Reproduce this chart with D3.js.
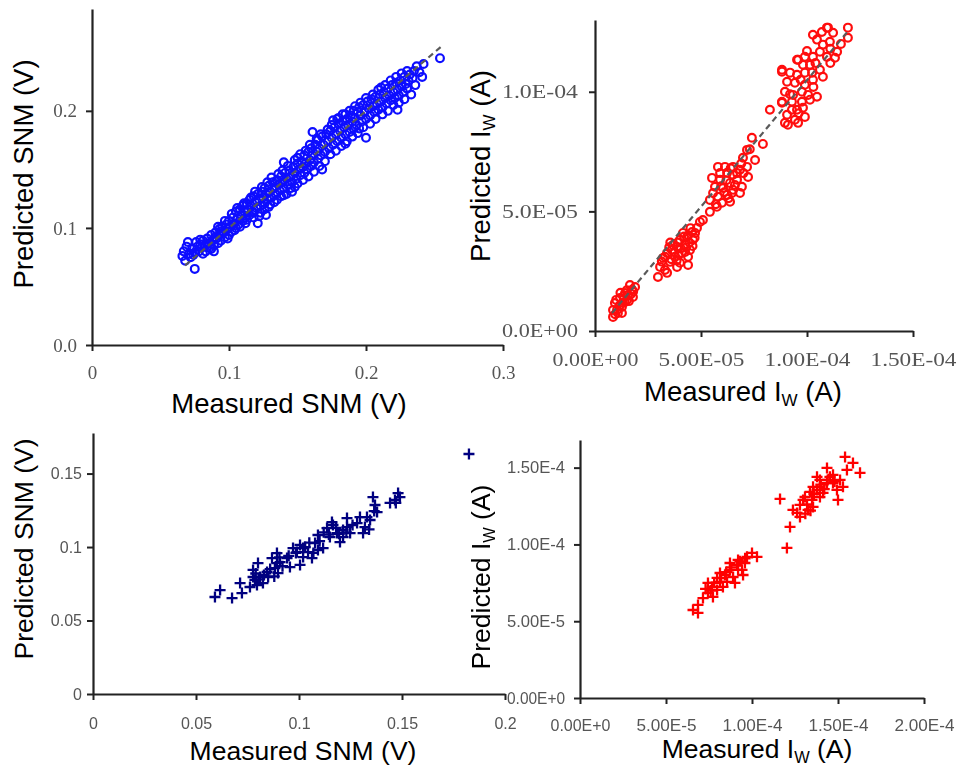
<!DOCTYPE html>
<html><head><meta charset="utf-8">
<script src="https://cdn.jsdelivr.net/npm/d3@7"></script>
<style>body{margin:0;background:#fff}svg{display:block}</style>
</head><body>
<svg id="c" width="961" height="769"></svg>
<script>
// ---------- DATA ----------
// Top-left: Measured SNM (V) vs Predicted SNM (V)
const snmTopPoints = [
[0.066,0.076],[0.067,0.080],[0.068,0.072],[0.069,0.084],[0.071,0.078],[0.072,0.075],[0.073,0.082],[0.075,0.065],[0.075,0.079],[0.076,0.088],[0.077,0.084],[0.078,0.080],[0.079,0.086],[0.080,0.083],[0.081,0.089],[0.082,0.085],[0.083,0.080],[0.084,0.091],[0.085,0.087],[0.086,0.083],[0.087,0.094],[0.088,0.089],[0.089,0.085],[0.089,0.080],[0.090,0.096],[0.091,0.091],[0.092,0.087],[0.093,0.099],[0.093,0.094],[0.094,0.089],[0.095,0.101],[0.096,0.096],[0.097,0.092],[0.098,0.103],[0.099,0.099],[0.100,0.094],[0.100,0.106],
[0.101,0.101],[0.102,0.097],[0.103,0.109],[0.104,0.104],[0.105,0.100],[0.105,0.114],[0.106,0.108],[0.107,0.103],[0.108,0.116],[0.109,0.111],[0.110,0.106],[0.110,0.119],[0.111,0.114],[0.112,0.109],[0.112,0.104],[0.113,0.121],[0.114,0.116],[0.115,0.111],[0.115,0.124],[0.116,0.119],[0.117,0.114],[0.118,0.109],[0.118,0.127],[0.119,0.122],[0.120,0.117],[0.121,0.104],[0.121,0.129],[0.122,0.124],[0.123,0.119],[0.123,0.113],[0.124,0.131],[0.125,0.126],[0.126,0.121],[0.126,0.134],[0.127,0.129],[0.128,0.124],[0.129,0.136],[0.129,0.118],[0.130,0.131],
[0.131,0.126],[0.132,0.139],[0.133,0.134],[0.134,0.129],[0.135,0.141],[0.135,0.124],[0.136,0.137],[0.137,0.132],[0.138,0.144],[0.139,0.139],[0.140,0.156],[0.140,0.134],[0.141,0.147],[0.142,0.142],[0.143,0.137],[0.144,0.149],[0.145,0.134],[0.145,0.144],[0.146,0.139],[0.147,0.152],[0.148,0.147],[0.149,0.142],[0.150,0.155],[0.150,0.160],[0.151,0.150],[0.152,0.145],[0.153,0.157],[0.154,0.152],[0.155,0.147],[0.155,0.162],[0.156,0.155],[0.157,0.150],[0.158,0.165],[0.159,0.158],[0.160,0.153],[0.160,0.168],[0.161,0.182],[0.161,0.162],[0.162,0.156],[0.163,0.171],[0.164,0.165],[0.165,0.159],[0.165,0.175],[0.166,0.168],[0.167,0.162],[0.168,0.150],[0.168,0.178],[0.169,0.171],[0.170,0.165],
[0.171,0.180],[0.172,0.174],[0.173,0.168],[0.174,0.183],[0.175,0.177],[0.176,0.171],[0.176,0.192],[0.177,0.186],[0.178,0.180],[0.179,0.174],[0.180,0.189],[0.180,0.194],[0.181,0.183],[0.182,0.177],[0.183,0.191],[0.184,0.186],[0.185,0.180],[0.185,0.197],[0.186,0.193],[0.187,0.188],[0.188,0.182],[0.189,0.196],[0.190,0.191],[0.191,0.185],[0.191,0.200],[0.192,0.194],[0.193,0.188],[0.194,0.199],[0.195,0.185],[0.195,0.203],[0.196,0.196],[0.197,0.191],[0.198,0.205],[0.199,0.199],[0.200,0.193],[0.200,0.177],[0.201,0.208],[0.202,0.202],[0.203,0.196],[0.204,0.210],[0.205,0.204],[0.206,0.199],[0.207,0.212],[0.208,0.206],[0.209,0.201],[0.210,0.214],
[0.211,0.220],[0.211,0.208],[0.212,0.203],[0.213,0.216],[0.214,0.211],[0.215,0.206],[0.216,0.219],[0.217,0.213],[0.218,0.209],[0.219,0.222],[0.220,0.216],[0.221,0.211],[0.222,0.224],[0.223,0.218],[0.223,0.201],[0.224,0.213],[0.225,0.226],[0.226,0.221],[0.227,0.216],[0.228,0.229],[0.229,0.223],[0.230,0.219],[0.231,0.226],[0.232,0.231],[0.234,0.228],[0.235,0.234],[0.237,0.238],[0.241,0.229],[0.242,0.240],[0.254,0.245],
[0.070,0.088],[0.074,0.077],[0.079,0.090],[0.081,0.078],[0.084,0.086],[0.087,0.082],[0.090,0.092],[0.092,0.101],[0.094,0.097],[0.097,0.106],[0.099,0.091],[0.102,0.112],[0.104,0.098],[0.106,0.117],[0.108,0.101],[0.111,0.121],[0.113,0.107],[0.116,0.126],[0.118,0.113],[0.119,0.131],[0.122,0.110],[0.124,0.135],[0.126,0.116],[0.128,0.139],[0.130,0.120],[0.131,0.143],[0.133,0.122],[0.136,0.146],[0.138,0.127],[0.139,0.149],[0.142,0.129],[0.143,0.153],[0.146,0.131],[0.148,0.158],[0.150,0.138],[0.152,0.163],[0.154,0.141],[0.156,0.166],[0.158,0.144],[0.159,0.171],[0.162,0.148],[0.164,0.176],[0.166,0.153],[0.167,0.180],[0.170,0.157],[0.172,0.184],[0.174,0.163],[0.175,0.188],[0.178,0.166],[0.179,0.193],[0.182,0.170],[0.183,0.197],[0.186,0.174],[0.188,0.200],[0.190,0.178],[0.192,0.204],[0.194,0.181],[0.196,0.207],[0.198,0.186],[0.200,0.211],[0.203,0.189],[0.205,0.214],[0.207,0.193],[0.209,0.218],[0.212,0.197],[0.214,0.222],[0.216,0.200],[0.218,0.226],[0.220,0.205],[0.222,0.229],[0.224,0.207],[0.226,0.232],[0.228,0.210],[0.230,0.234],[0.233,0.214],[0.236,0.222],[0.239,0.233],[0.127,0.111],[0.148,0.135],[0.185,0.172],[0.140,0.128]
];
const snmTopFit = [[0.068,0.068],[0.256,0.256]];
const snmTopXTicks = [0,0.1,0.2,0.3];
const snmTopXLabels = ["0","0.1","0.2","0.3"];
const snmTopYTicks = [0,0.1,0.2];
const snmTopYLabels = ["0.0","0.1","0.2"];

// Top-right: Measured IW (A) vs Predicted IW (A)
const iwTopPoints = [
[0.85e-5,0.59e-5],[1.04e-5,0.88e-5],[0.94e-5,1.17e-5],[1.27e-5,1.00e-5],[1.18e-5,1.38e-5],[1.51e-5,1.30e-5],[1.42e-5,1.59e-5],[1.75e-5,1.72e-5],[1.79e-5,1.42e-5],[1.65e-5,1.92e-5],[1.08e-5,0.75e-5],[1.32e-5,1.17e-5],[1.56e-5,1.51e-5],[1.89e-5,1.84e-5],[0.85e-5,0.88e-5],[1.27e-5,0.75e-5],[1.60e-5,1.25e-5],[1.20e-5,1.60e-5],
[1.00e-5,1.30e-5],[1.15e-5,1.05e-5],[1.40e-5,1.20e-5],[1.70e-5,1.55e-5],[1.50e-5,1.70e-5],[0.95e-5,0.70e-5],[1.35e-5,1.45e-5],[1.80e-5,1.65e-5],
[4.95e-5,4.56e-5],[4.81e-5,4.31e-5],[4.58e-5,4.14e-5],[4.34e-5,3.93e-5],[4.62e-5,3.81e-5],[4.01e-5,3.81e-5],[4.25e-5,3.60e-5],[3.87e-5,3.51e-5],[4.48e-5,3.39e-5],[3.63e-5,3.39e-5],[4.10e-5,3.26e-5],[3.40e-5,3.26e-5],[3.77e-5,3.10e-5],[4.39e-5,3.10e-5],[3.21e-5,3.05e-5],[3.54e-5,2.89e-5],[4.01e-5,2.85e-5],[3.07e-5,2.68e-5],[3.30e-5,2.55e-5],[2.97e-5,2.26e-5],[3.87e-5,2.68e-5],[4.39e-5,2.76e-5],[3.40e-5,2.43e-5],[4.72e-5,4.10e-5],[4.15e-5,4.10e-5],[3.68e-5,3.60e-5],[4.45e-5,3.70e-5],[3.95e-5,3.20e-5],[3.15e-5,2.90e-5],[4.20e-5,3.95e-5],
[3.50e-5,3.50e-5],[3.60e-5,3.00e-5],[3.90e-5,3.70e-5],[4.30e-5,3.50e-5],[4.60e-5,3.55e-5],[4.05e-5,3.45e-5],[3.75e-5,3.30e-5],[4.25e-5,3.30e-5],[4.50e-5,4.30e-5],[4.40e-5,4.00e-5],[3.30e-5,3.10e-5],[3.85e-5,2.95e-5],[4.70e-5,3.90e-5],[3.55e-5,3.70e-5],
[7.40e-5,8.08e-5],[7.92e-5,7.82e-5],[7.17e-5,7.57e-5],[7.55e-5,7.15e-5],[7.17e-5,6.86e-5],[6.84e-5,6.74e-5],[6.51e-5,6.86e-5],[5.80e-5,6.86e-5],[6.23e-5,6.61e-5],[5.52e-5,6.40e-5],[5.90e-5,6.32e-5],[6.37e-5,6.19e-5],[6.70e-5,6.32e-5],[6.93e-5,6.03e-5],[6.51e-5,5.90e-5],[6.04e-5,5.98e-5],[5.66e-5,6.03e-5],[6.84e-5,5.77e-5],[6.23e-5,5.69e-5],[5.80e-5,5.61e-5],[5.42e-5,5.48e-5],[5.99e-5,5.36e-5],[6.37e-5,5.40e-5],[5.42e-5,4.98e-5],[5.09e-5,4.64e-5],[5.75e-5,5.19e-5],[6.51e-5,6.53e-5],[6.13e-5,6.86e-5],[6.98e-5,7.24e-5],[7.22e-5,6.44e-5],[6.46e-5,5.77e-5],[5.57e-5,5.77e-5],
[5.90e-5,6.60e-5],[6.20e-5,6.30e-5],[6.60e-5,6.10e-5],[6.70e-5,6.60e-5],[5.70e-5,5.30e-5],[6.10e-5,5.80e-5],[7.00e-5,6.60e-5],[6.40e-5,6.80e-5],[7.30e-5,7.60e-5],[5.95e-5,6.05e-5],[6.90e-5,7.00e-5],[6.30e-5,5.55e-5],
[11.93e-5,12.68e-5],[11.93e-5,12.26e-5],[10.94e-5,12.68e-5],[11.23e-5,12.47e-5],[10.47e-5,12.18e-5],[10.75e-5,11.97e-5],[11.08e-5,12.09e-5],[10.28e-5,12.38e-5],[10.61e-5,11.67e-5],[11.42e-5,11.67e-5],[10.28e-5,11.46e-5],[10.94e-5,11.46e-5],[9.90e-5,11.46e-5],[9.53e-5,11.34e-5],[10.14e-5,11.13e-5],[9.81e-5,11.13e-5],[11.32e-5,11.42e-5],[8.82e-5,10.84e-5],[9.20e-5,10.80e-5],[9.53e-5,10.71e-5],[9.90e-5,10.80e-5],[10.24e-5,10.80e-5],[10.75e-5,10.63e-5],[10.61e-5,10.92e-5],[9.06e-5,10.42e-5],[9.43e-5,10.38e-5],[9.90e-5,10.29e-5],[10.28e-5,10.50e-5],[9.76e-5,10.00e-5],[8.96e-5,10.00e-5],[9.34e-5,9.87e-5],[10.05e-5,9.87e-5],[8.82e-5,9.58e-5],[9.29e-5,9.58e-5],[9.76e-5,9.58e-5],[10.14e-5,9.67e-5],[10.47e-5,9.79e-5],[9.53e-5,9.25e-5],[8.25e-5,9.25e-5],[9.06e-5,9.04e-5],[9.90e-5,8.95e-5],[9.43e-5,8.83e-5],[8.96e-5,8.70e-5],[9.10e-5,8.62e-5],[9.58e-5,8.70e-5],[9.29e-5,9.25e-5],[9.81e-5,9.33e-5],[8.82e-5,10.92e-5],[8.82e-5,9.54e-5],[9.58e-5,11.34e-5],[10.99e-5,12.68e-5],[11.60e-5,12.00e-5],[11.10e-5,11.20e-5],
[10.00e-5,11.70e-5],[10.40e-5,11.20e-5],[9.70e-5,10.50e-5],[9.20e-5,9.90e-5],[10.70e-5,12.50e-5],[11.10e-5,11.80e-5],[9.60e-5,9.10e-5],[10.30e-5,10.20e-5]
];
const iwTopFit = [[0.8e-5,0.75e-5],[11.9e-5,12.5e-5]];
const iwTopXTicks = [0,5e-5,1e-4,1.5e-4];
const iwTopXLabels = ["0.00E+00","5.00E-05","1.00E-04","1.50E-04"];
const iwTopYTicks = [0,5e-5,1e-4];
const iwTopYLabels = ["0.0E+00","5.0E-05","1.0E-04"];

// Bottom-left: Measured SNM (V) vs Predicted SNM (V)
const snmBottomPoints = [
[0.0592,0.0660],[0.0617,0.0707],[0.0675,0.0653],[0.0723,0.0687],[0.0714,0.0755],[0.0762,0.0728],[0.0777,0.0844],[0.0786,0.0776],[0.0801,0.0891],[0.0796,0.0741],[0.0825,0.0755],[0.0850,0.0796],[0.0869,0.0925],[0.0883,0.0857],[0.0908,0.0898],[0.0898,0.0823],[0.0942,0.0925],[0.0956,0.0864],[0.0990,0.0966],[0.1005,0.1014],[0.1020,0.0932],[0.1044,0.0966],[0.1063,0.0925],[0.1078,0.1027],[0.1092,0.1082],[0.1117,0.0993],[0.1136,0.1129],[0.1150,0.1068],[0.1165,0.1150],[0.1184,0.1095],[0.1199,0.1034],[0.1214,0.1116],[0.1233,0.1197],[0.1248,0.1095],[0.1233,0.1136],[0.1296,0.1204],[0.1320,0.1136],[0.1311,0.1095],[0.1345,0.1184],[0.1359,0.1340],[0.1379,0.1238],[0.1369,0.1286],[0.1442,0.1300],[0.1466,0.1320],[0.1481,0.1367],[0.1490,0.1340],
[0.0971,0.0993],[0.1020,0.0993],[0.1005,0.0878],[0.0893,0.0959],[0.0845,0.0830],[0.0811,0.0796],[0.1092,0.0980],[0.1160,0.1170],[0.1214,0.1068],[0.1282,0.1163],[0.1330,0.1204],[0.0893,0.0891],[0.0777,0.0796],
[0.0805,0.0780],[0.0830,0.0810],[0.0860,0.0850],[0.0880,0.0800],[0.0920,0.0870],[0.0950,0.0940],[0.0985,0.0960],[0.1030,0.1000],[0.1050,0.1030],[0.1070,0.0960],[0.1100,0.1040],[0.1120,0.1100],[0.1145,0.1085],[0.1180,0.1130],[0.1195,0.1090],[0.1230,0.1100],[0.1260,0.1150],[0.1340,0.1120],[0.1365,0.1245],[0.1470,0.1300],[0.0790,0.0820],[0.0905,0.0930],
[0.1825,0.1633]
];
const snmBottomXTicks = [0,0.05,0.1,0.15,0.2];
const snmBottomXLabels = ["0","0.05","0.1","0.15","0.2"];
const snmBottomYTicks = [0,0.05,0.1,0.15];
const snmBottomYLabels = ["0","0.05","0.1","0.15"];

// Bottom-right: Measured IW (A) vs Predicted IW (A)
const iwBottomPoints = [
[6.57e-5,5.73e-5],[6.86e-5,5.54e-5],[6.86e-5,6.06e-5],[7.44e-5,6.84e-5],[7.67e-5,7.23e-5],[7.44e-5,7.49e-5],[7.97e-5,7.04e-5],[7.97e-5,7.82e-5],[8.14e-5,8.14e-5],[8.55e-5,7.56e-5],[8.43e-5,8.01e-5],[8.72e-5,8.34e-5],[8.90e-5,7.88e-5],[9.13e-5,8.66e-5],[9.19e-5,8.99e-5],[9.42e-5,8.34e-5],[9.59e-5,8.79e-5],[9.71e-5,9.19e-5],[10.00e-5,9.45e-5],[10.29e-5,9.19e-5],[9.01e-5,7.49e-5],[8.31e-5,7.23e-5],[7.73e-5,6.58e-5],[8.72e-5,8.79e-5],[9.48e-5,8.01e-5],[8.14e-5,7.56e-5],[9.19e-5,8.34e-5],[7.15e-5,6.51e-5],
[7.60e-5,7.00e-5],[7.80e-5,7.50e-5],[8.20e-5,7.80e-5],[8.50e-5,8.20e-5],[8.80e-5,8.50e-5],[9.30e-5,8.90e-5],[9.60e-5,9.10e-5],[7.30e-5,7.10e-5],
[11.63e-5,12.96e-5],[12.03e-5,9.77e-5],[12.21e-5,11.14e-5],[12.38e-5,12.25e-5],[12.79e-5,11.79e-5],[12.79e-5,12.57e-5],[13.26e-5,12.25e-5],[13.08e-5,13.09e-5],[13.49e-5,12.90e-5],[13.78e-5,13.55e-5],[13.55e-5,13.75e-5],[13.95e-5,14.20e-5],[14.36e-5,14.98e-5],[13.78e-5,14.40e-5],[14.13e-5,13.36e-5],[14.71e-5,14.00e-5],[14.53e-5,14.40e-5],[14.94e-5,13.55e-5],[15.00e-5,12.90e-5],[15.29e-5,13.75e-5],[15.41e-5,15.70e-5],[15.87e-5,15.31e-5],[16.28e-5,14.66e-5],[15.52e-5,14.85e-5],[13.40e-5,12.20e-5],[12.97e-5,12.90e-5],[13.37e-5,13.42e-5],[13.95e-5,13.75e-5],[14.36e-5,14.00e-5],[14.71e-5,14.53e-5],[15.12e-5,14.20e-5],[13.95e-5,13.09e-5],[12.62e-5,12.05e-5],[13.55e-5,12.44e-5],
[13.20e-5,12.60e-5],[13.60e-5,13.30e-5],[14.00e-5,13.90e-5],[14.40e-5,14.20e-5],[14.80e-5,14.10e-5],[13.10e-5,12.00e-5],[14.20e-5,13.60e-5]
];
const iwBottomXTicks = [0,5e-5,1e-4,1.5e-4,2e-4];
const iwBottomXLabels = ["0.00E+0","5.00E-5","1.00E-4","1.50E-4","2.00E-4"];
const iwBottomYTicks = [0,5e-5,1e-4,1.5e-4];
const iwBottomYLabels = ["0.00E+0","5.00E-5","1.00E-4","1.50E-4"];

// ---------- DRAW ----------
const svg = d3.select("#c");
const defs = svg.append("defs");
defs.append("filter").attr("id","soft").append("feGaussianBlur").attr("stdDeviation",0.45);

function panel(o){
  const x = d3.scaleLinear().domain(o.xd).range(o.xr);
  const y = d3.scaleLinear().domain(o.yd).range(o.yr);
  const g = svg.append("g");

  const marks = g.append("g").attr("filter","url(#soft)");
  if(o.marker === "circle"){
    marks.selectAll("circle").data(o.points).join("circle")
      .attr("cx",d=>x(d[0])).attr("cy",d=>y(d[1])).attr("r",3.9)
      .attr("fill","none").attr("stroke",o.color).attr("stroke-width",2.2);
  } else {
    marks.selectAll("path").data(o.points).join("path")
      .attr("transform",d=>`translate(${x(d[0])},${y(d[1])})`)
      .attr("d","M-5.5,0H5.5M0,-5.5V5.5")
      .attr("fill","none").attr("stroke",o.color).attr("stroke-width",2.3);
  }
  if(o.fit){
    g.append("line")
      .attr("x1",x(o.fit[0][0])).attr("y1",y(o.fit[0][1]))
      .attr("x2",x(o.fit[1][0])).attr("y2",y(o.fit[1][1]))
      .attr("stroke","#5a5a5a").attr("stroke-width",2.2)
      .attr("stroke-dasharray","6,4").attr("filter","url(#soft)");
  }

  const xa = d3.axisBottom(x).tickValues(o.xt).tickFormat((d,i)=>o.xl[i])
    .tickSize(6).tickSizeOuter(0).tickPadding(o.xpad);
  const ya = d3.axisLeft(y).tickValues(o.yt).tickFormat((d,i)=>o.yl[i])
    .tickSize(6).tickSizeOuter(0).tickPadding(o.ypad);
  const gx = g.append("g").attr("transform",`translate(0,${o.yr[0]})`).call(xa);
  const gy = g.append("g").attr("transform",`translate(${o.xr[0]},0)`).call(ya);
  [gx,gy].forEach(a=>{
    a.select(".domain").attr("stroke","#222").attr("stroke-width",2.2);
    a.selectAll(".tick line").attr("stroke","#222").attr("stroke-width",2);
    a.selectAll(".tick text").style("font-family",o.font).style("font-size",o.fs+"px")
      .attr("fill","#555").attr("filter","url(#soft)");
  });
  if(o.xlen) gx.selectAll(".tick text").attr("textLength",o.xlen).attr("lengthAdjust","spacingAndGlyphs");
  if(o.ylen) gy.selectAll(".tick text").attr("textLength",o.ylen).attr("lengthAdjust","spacingAndGlyphs");
}

function title(tx,ty,rot,parts,size){
  const t = svg.append("text")
    .attr("transform",`translate(${tx},${ty})`+(rot?" rotate(-90)":""))
    .attr("text-anchor","middle")
    .style("font-family","'Liberation Sans', Arial, sans-serif")
    .style("font-size",size+"px").attr("fill","#000");
  parts.forEach(p=>{
    const s = t.append("tspan").text(p.t);
    if(p.sub){ s.style("font-size",(size*0.62)+"px").attr("dy",5); }
    if(p.after){ s.attr("dy",-5); }
  });
}

panel({points:snmTopPoints,fit:snmTopFit,marker:"circle",color:"#1010ff",
  xd:[0,0.3],yd:[0,0.287],xr:[92,503],yr:[345,9],
  xt:snmTopXTicks,xl:snmTopXLabels,yt:snmTopYTicks,yl:snmTopYLabels,
  font:"'Liberation Serif','Times New Roman',serif",fs:19,xpad:15,ypad:9});
panel({points:iwTopPoints,fit:iwTopFit,marker:"circle",color:"#ff1010",
  xd:[0,1.5e-4],yd:[0,1.30e-4],xr:[595,913],yr:[331,20],
  xt:iwTopXTicks,xl:iwTopXLabels,yt:iwTopYTicks,yl:iwTopYLabels,
  font:"'Liberation Serif','Times New Roman',serif",fs:18,xpad:16,ypad:11,xlen:86,ylen:76});
panel({points:snmBottomPoints,marker:"plus",color:"#000080",
  xd:[0,0.2],yd:[0,0.1776],xr:[93,505],yr:[694,433],
  xt:snmBottomXTicks,xl:snmBottomXLabels,yt:snmBottomYTicks,yl:snmBottomYLabels,
  font:"'Liberation Sans',Arial,sans-serif",fs:16,xpad:18,ypad:5});
panel({points:iwBottomPoints,marker:"plus",color:"#ff0000",
  xd:[0,2e-4],yd:[0,1.68e-4],xr:[580,924],yr:[698,440],
  xt:iwBottomXTicks,xl:iwBottomXLabels,yt:iwBottomYTicks,yl:iwBottomYLabels,
  font:"'Liberation Sans',Arial,sans-serif",fs:16,xpad:16,ypad:9,xlen:60,ylen:58});

title(33,174,true,[{t:"Predicted SNM (V)"}],27.5);
title(289,413,false,[{t:"Measured SNM (V)"}],27.5);
title(490,166,true,[{t:"Predicted I"},{t:"W",sub:true},{t:" (A)",after:true}],27.5);
title(743,401,false,[{t:"Measured I"},{t:"W",sub:true},{t:" (A)",after:true}],27.5);
title(33,549,true,[{t:"Predicted SNM (V)"}],26.5);
title(303,760,false,[{t:"Measured SNM (V)"}],26.5);
title(490,577,true,[{t:"Predicted I"},{t:"W",sub:true},{t:" (A)",after:true}],26.5);
title(757,758,false,[{t:"Measured I"},{t:"W",sub:true},{t:" (A)",after:true}],26.5);
</script>
</body></html>
